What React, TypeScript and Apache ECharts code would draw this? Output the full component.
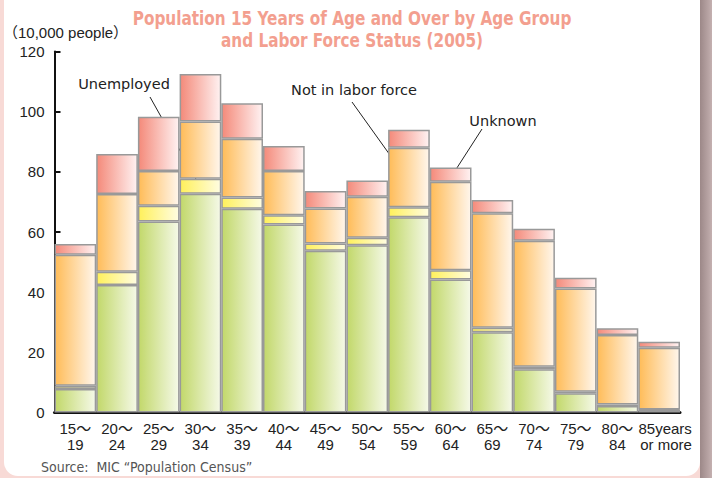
import React, { useEffect, useRef } from "react";
import * as echarts from "echarts";

const categories = [
  "15～\n19", "20～\n24", "25～\n29", "30～\n34", "35～\n39", "40～\n44", "45～\n49",
  "50～\n54", "55～\n59", "60～\n64", "65～\n69", "70～\n74", "75～\n79", "80～\n84", "85years\nor more",
];
const employed = [7.8, 42.4, 63.5, 72.7, 67.7, 62.5, 53.8, 55.6, 64.9, 44.2, 26.7, 14.4, 6.4, 2.2, 0.8];
const unemployed = [1.1, 4.4, 5.2, 5.0, 3.8, 3.1, 2.4, 2.5, 3.3, 3.1, 1.5, 0.8, 0.5, 0.5, 0.2];
const notInLabor = [43.5, 25.8, 11.6, 19.0, 19.5, 14.7, 11.6, 13.6, 19.8, 29.4, 38.0, 41.9, 34.3, 23.1, 20.5];
const unknown = [3.6, 13.3, 18.0, 15.8, 11.8, 8.3, 5.8, 5.4, 6.0, 4.7, 4.4, 4.0, 3.6, 2.2, 2.0];

const FONT = "'Liberation Sans', 'Noto Sans CJK JP', sans-serif";
const NOTE = "'DejaVu Sans', 'Liberation Sans', sans-serif";
const NARROW = "'DejaVu Sans Condensed', 'DejaVu Sans', sans-serif";

const grad = (a: string, b: string) =>
  new echarts.graphic.LinearGradient(0, 0, 1, 0, [
    { offset: 0, color: a },
    { offset: 1, color: b },
  ]);

export default function App() {
  const ref = useRef<HTMLDivElement>(null);
  useEffect(() => {
    document.body.style.margin = "0";
    if (!ref.current) return;
    const chart = echarts.init(ref.current, undefined, { renderer: "svg" });
    const seriesBase = (name: string, data: number[], c1: string, c2: string) => ({
      name,
      type: "bar",
      stack: "total",
      data,
      barWidth: "100%",
      barCategoryGap: "0%",
      itemStyle: { color: grad(c1, c2), borderColor: "#999", borderWidth: 1.5 },
      emphasis: { disabled: true },
    });
    const note = (text: string, x: number, y: number) => ({
      type: "text",
      x,
      y,
      style: { text, font: `14.5px ${NOTE}`, fill: "#222", textAlign: "center", textVerticalAlign: "middle" },
    });
    chart.setOption({
      animation: false,
      backgroundColor: "transparent",
      grid: { left: 54.5, right: 32, top: 51.5, bottom: 65.5, containLabel: false },
      xAxis: {
        type: "category",
        data: categories,
        axisLine: { lineStyle: { color: "#111", width: 3 } },
        axisTick: { inside: true, length: 3, lineStyle: { color: "#111", width: 2 } },
        axisLabel: {
          interval: 0,
          fontFamily: FONT,
          fontSize: 15,
          lineHeight: 16,
          color: "#222",
          margin: 8,
          formatter: (v: string, i: number) =>
            i === categories.length - 1
              ? v.split("\n").map((l) => `{r|${l}}`).join("\n")
              : v,
          rich: {
            r: { align: "right", padding: [0, 0, 0, 12], fontFamily: FONT, fontSize: 15, lineHeight: 16, color: "#222" },
          },
        },
      },
      yAxis: {
        type: "value",
        min: 0,
        max: 120,
        interval: 20,
        splitLine: { show: false },
        axisLine: { show: true, lineStyle: { color: "#111", width: 2 } },
        axisTick: { show: true, inside: true, length: 6, lineStyle: { color: "#111", width: 2 } },
        axisLabel: { fontFamily: FONT, fontSize: 15, color: "#222", margin: 10 },
      },
      series: [
        seriesBase("Employed", employed, "#c2d86a", "#f5f9e8"),
        seriesBase("Unemployed", unemployed, "#fff05a", "#fffde2"),
        seriesBase("Not in labor force", notInLabor, "#ffbc58", "#fff6ec"),
        seriesBase("Unknown", unknown, "#f48a7a", "#fff2f2"),
      ],
      graphic: [
        {
          type: "text",
          x: 352,
          y: 7,
          scaleX: 0.85,
          style: {
            text: "Population 15 Years of Age and Over by Age Group\nand Labor Force Status (2005)",
            font: `bold 20px ${NARROW}`,
            fill: "#f39f8f",
            textAlign: "center",
            lineHeight: 22,
          },
        },
        {
          type: "text",
          x: 3,
          y: 32,
          style: { text: "（10,000 people）", font: `15px ${FONT}`, fill: "#222", textVerticalAlign: "middle" },
        },
        note("Unemployed", 124, 84),
        { type: "line", shape: { x1: 150, y1: 97, x2: 201, y2: 188 }, style: { stroke: "#222", lineWidth: 1 } },
        note("Not in labor force", 354, 90),
        { type: "line", shape: { x1: 352, y1: 102, x2: 405, y2: 176 }, style: { stroke: "#222", lineWidth: 1 } },
        note("Unknown", 503, 121),
        { type: "line", shape: { x1: 482, y1: 129, x2: 453, y2: 174 }, style: { stroke: "#222", lineWidth: 1 } },
        note("Employed", 268, 326),
        {
          type: "text",
          x: 41,
          y: 467,
          style: { text: "Source:  MIC “Population Census”", font: `14px ${NARROW}`, fill: "#555", textVerticalAlign: "middle" },
        },
      ],
    });
    return () => chart.dispose();
  }, []);

  return (
    <div style={{ position: "relative", width: 712, height: 478, overflow: "hidden", background: "#f8dad6" }}>
      <div
        style={{
          position: "absolute",
          left: 700,
          top: 0,
          width: 12,
          height: 478,
          background: "linear-gradient(to right, #9c8888, #c4b0b0)",
        }}
      />
      <div
        style={{
          position: "absolute",
          left: 4,
          top: -30,
          width: 696,
          height: 506,
          background: "#ffffff",
          borderRadius: 14,
        }}
      />
      <div ref={ref} style={{ position: "absolute", left: 0, top: 0, width: 712, height: 478 }} />
    </div>
  );
}
